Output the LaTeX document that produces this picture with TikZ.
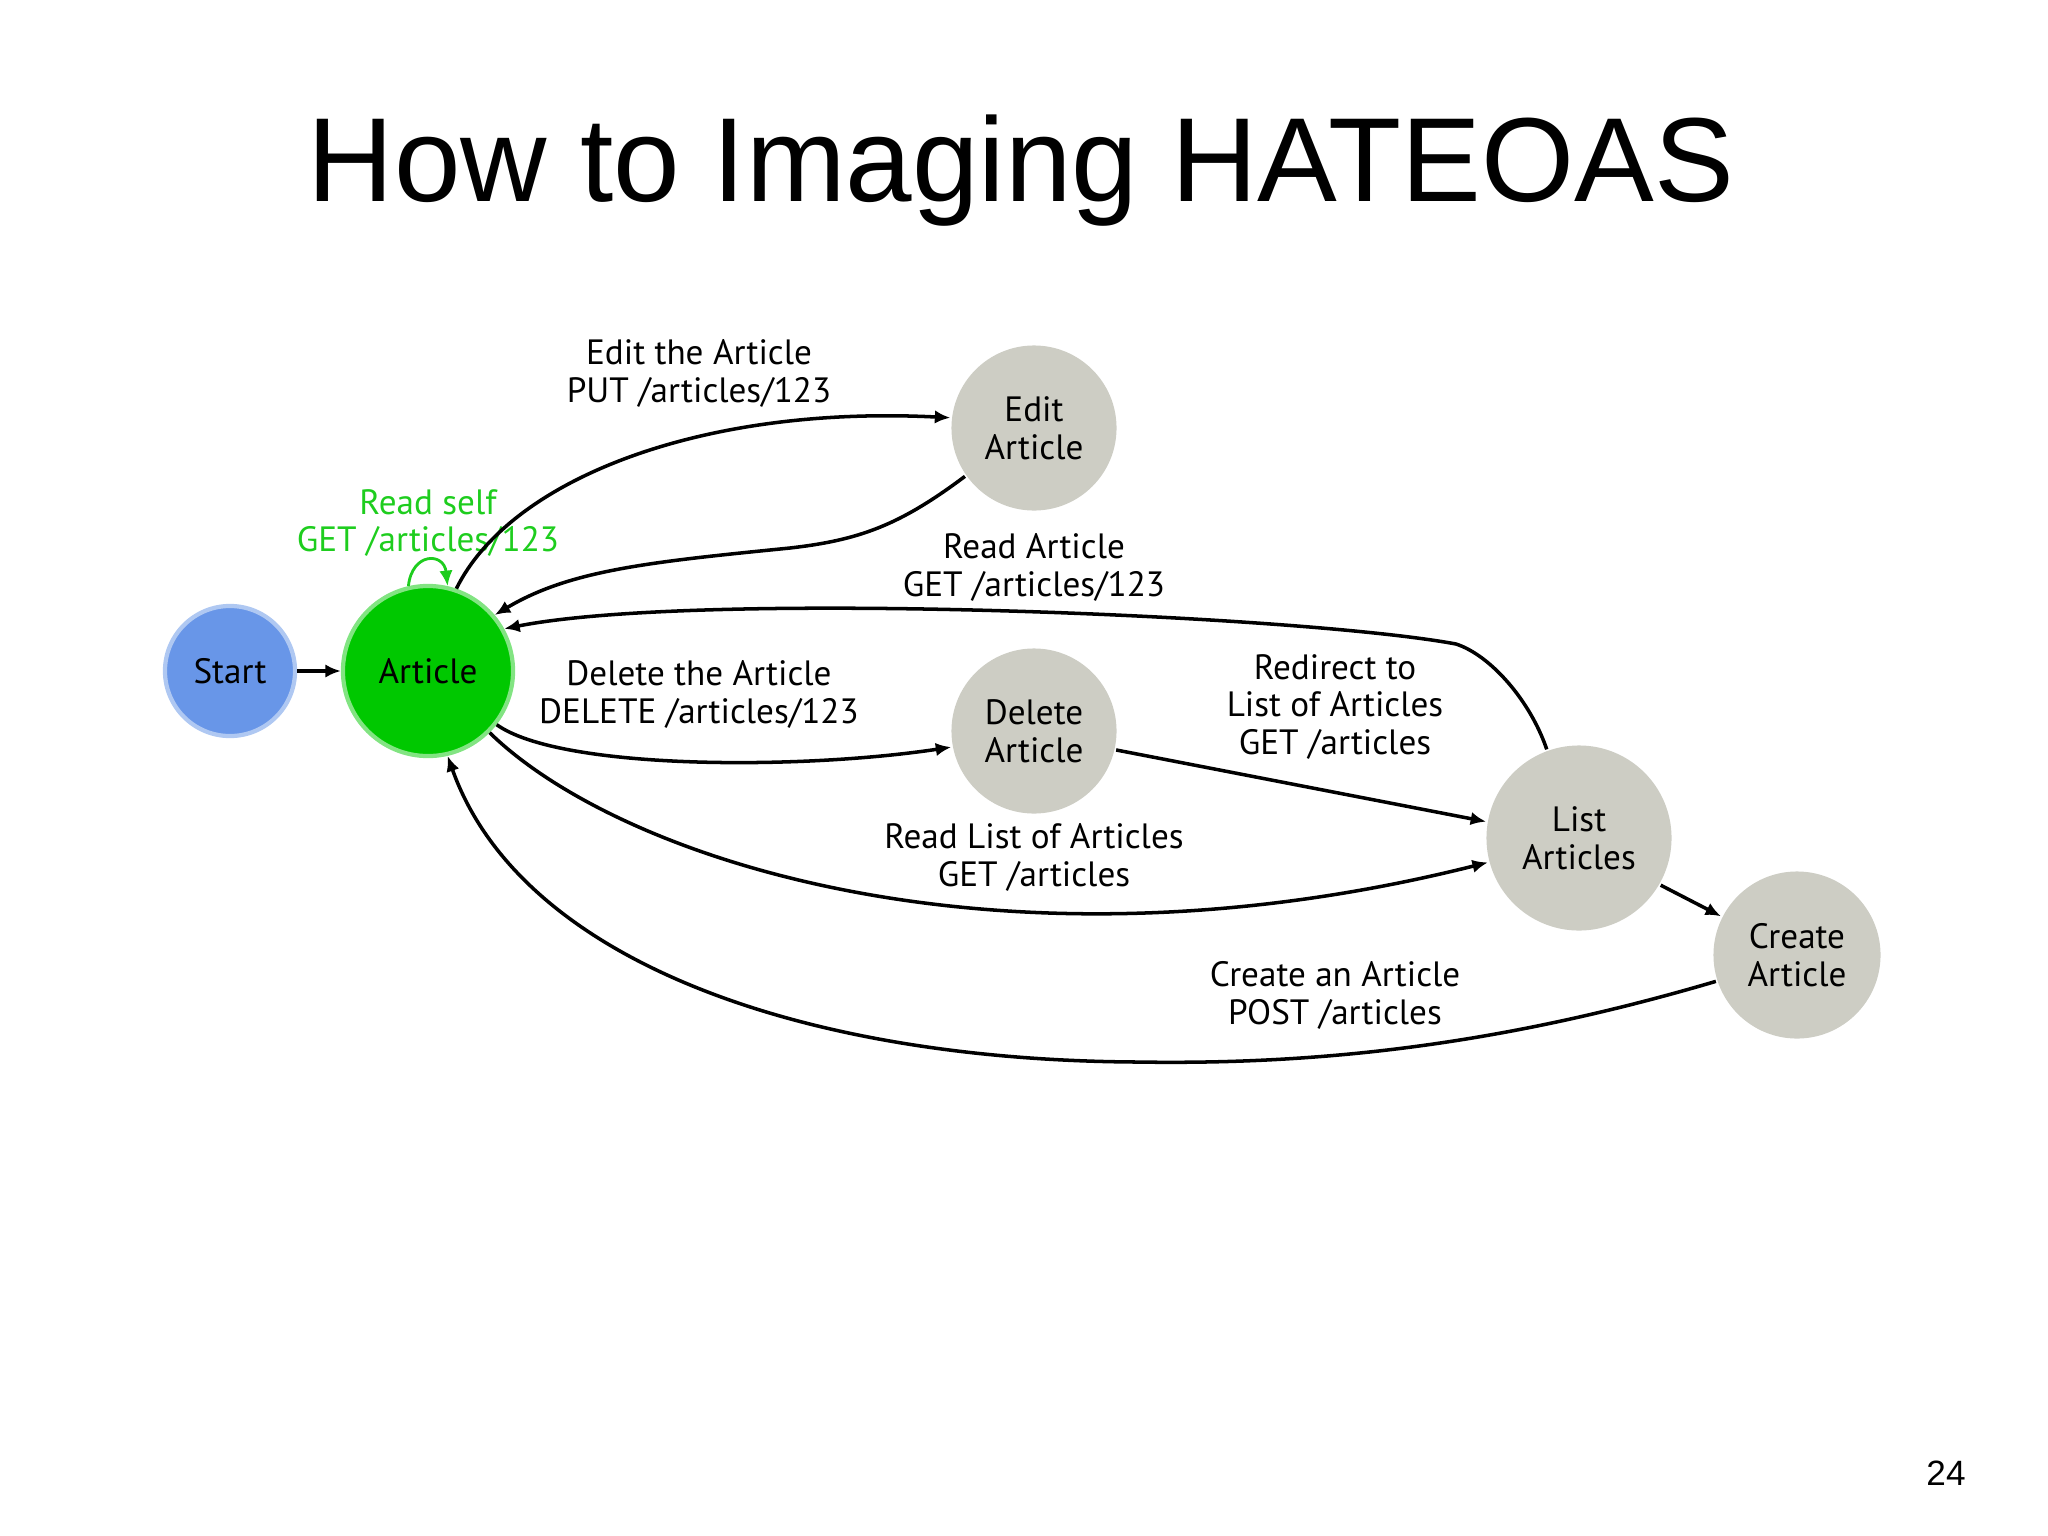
\documentclass[tikz,border=0pt]{standalone}
\usepackage{fontspec}
\setmainfont{PT Sans}
\newfontfamily\titlefont{Liberation Sans}
\usetikzlibrary{shapes,arrows,arrows.meta}

\definecolor{startblue}{RGB}{104,150,232}
\definecolor{startring}{RGB}{175,200,242}
\definecolor{artgreen}{RGB}{0,200,0}
\definecolor{artring}{RGB}{130,228,130}
\definecolor{stategray}{RGB}{205,205,196}
\definecolor{selfgreen}{RGB}{30,205,30}

\tikzset{
  state/.style={circle, fill=stategray, inner sep=0pt, align=center,
    font=\fontsize{10}{10.8}\selectfont, minimum size=1.65cm},
  lbl/.style={align=center, font=\fontsize{10}{10.8}\selectfont},
}

\begin{document}
\begin{tikzpicture}[x=0.01cm, y=-0.01cm, >={Latex[length=4.4pt,width=3.8pt]}, line width=1pt]
\useasboundingbox (0,0) rectangle (2048,1536);

\node (T) at (1021, 171) {\titlefont\fontsize{34}{40}\selectfont How to Imaging HATEOAS};
\node (P) at (1946, 1473) {\titlefont\fontsize{10}{12}\selectfont 24};

% states
\node (start) [state, fill=startblue, draw=startring, line width=1.2pt, minimum size=1.3cm] at (230, 671) {Start};
\node (art) [state, fill=artgreen, draw=artring, line width=1.2pt, minimum size=1.7cm] at (428, 671) {Article};
\node (edit) [state] at (1034, 428) {Edit\\Article};
\node (del) [state] at (1034, 731) {Delete\\Article};
\node (list) [state, minimum size=1.85cm] at (1579, 838) {List\\Articles};
\node (create) [state, minimum size=1.67cm] at (1797, 955) {Create\\Article};

% labels
\node (Lself) [lbl, text=selfgreen] at (428, 523) {Read self\\GET /articles/123};
\node (Ledit) [lbl] at (699, 373) {Edit the Article\\PUT /articles/123};
\node (Lread) [lbl] at (1034, 567) {Read Article\\GET /articles/123};
\node (Ldel) [lbl] at (699, 694) {Delete the Article\\DELETE /articles/123};
\node (Lredir) [lbl] at (1335, 707) {Redirect to\\List of Articles\\GET /articles};
\node (Llist) [lbl] at (1034, 857) {Read List of Articles\\GET /articles};
\node (Lcreate) [lbl] at (1335, 995) {Create an Article\\POST /articles};

% arrows
\draw[->] (start) -- (art);
\draw[->, color=selfgreen, line width=0.8pt] (art.103) .. controls (412,552) and (444,552) .. (art.77);
\draw[->] (art.71) .. controls (510,480) and (700,405) .. (edit.173);
\draw[->] (edit.215) .. controls (900,525) and (860,540) .. (790,548)
  .. controls (650,562) and (570,570) .. (art.40);
\draw[->] (list.110) .. controls (1530,700) and (1490,655) .. (1456,644)
  .. controls (1300,615) and (700,590) .. (art.29);
\draw[->] (art.-38) .. controls (560,770) and (800,770) .. (del.191);
\draw[->] (del.-13) -- (list.170);
\draw[->] (art.-45) .. controls (620,860) and (1000,985) .. (list.195);
\draw[->] (list.-30) -- (create.153);
\draw[->] (create.198) .. controls (1500,1045) and (1320,1065) .. (1136,1062)
  .. controls (800,1060) and (520,960) .. (art.-77);

\end{tikzpicture}
\end{document}
